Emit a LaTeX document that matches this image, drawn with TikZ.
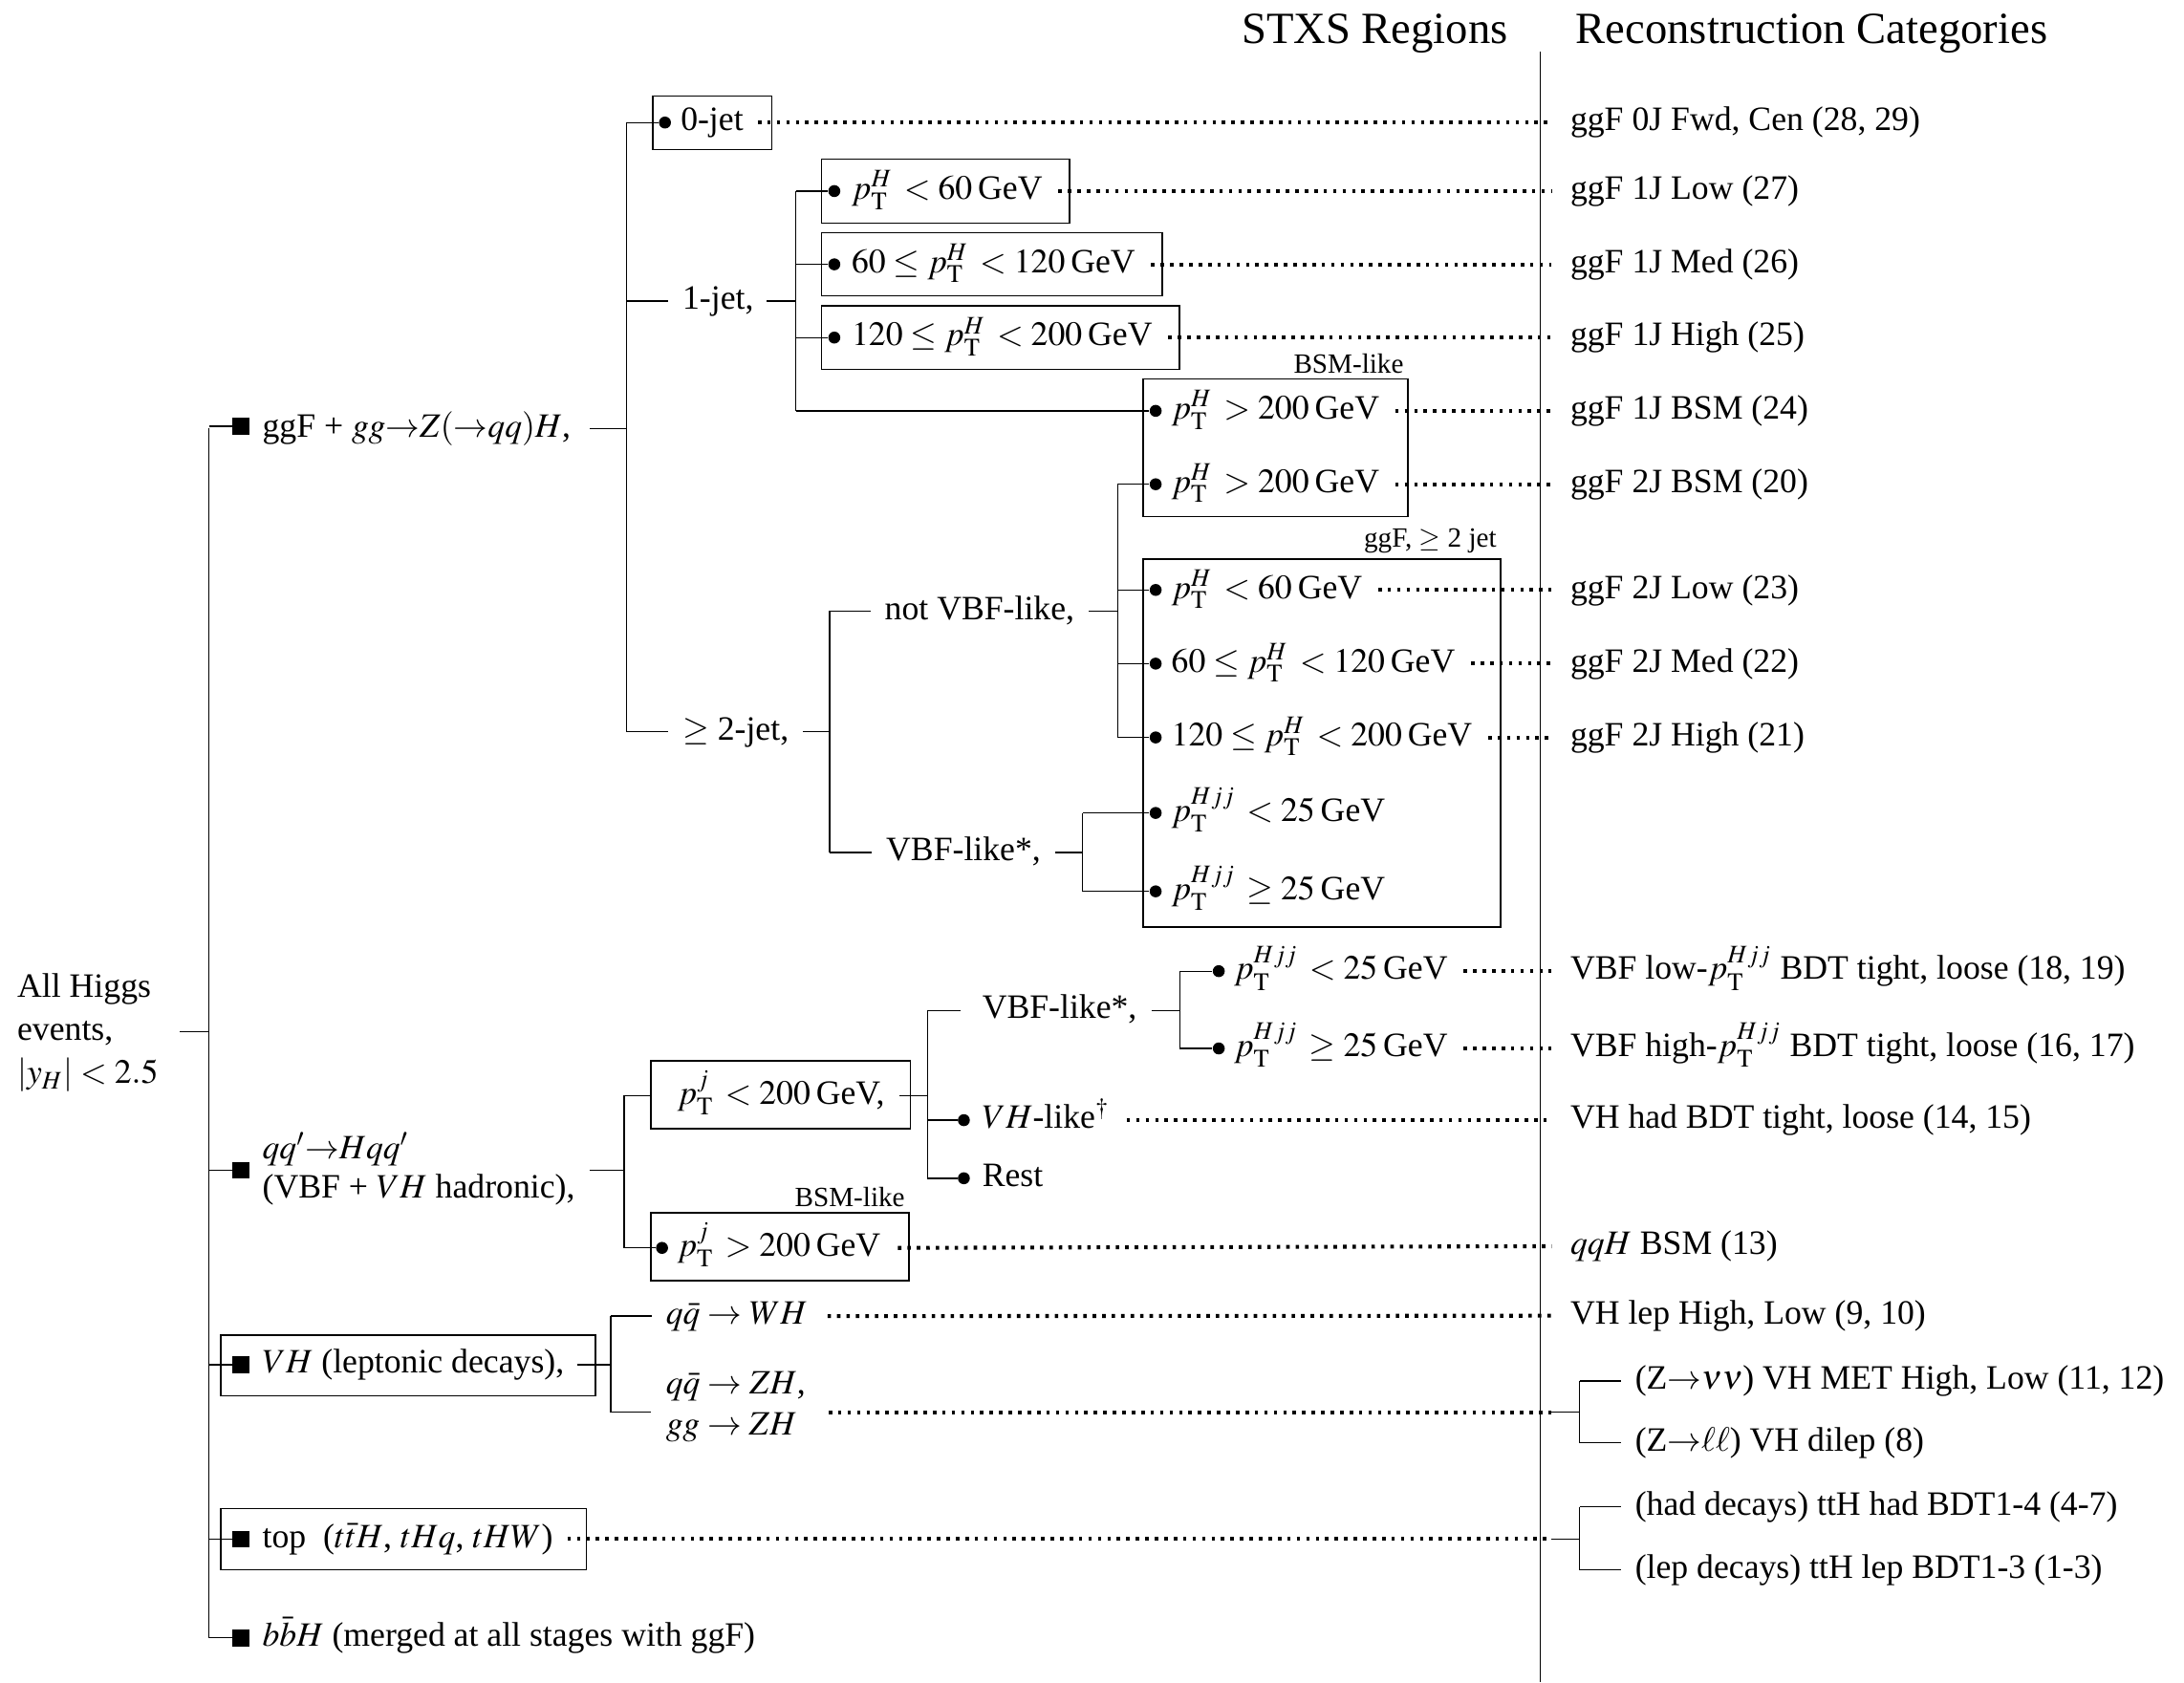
\documentclass[tikz,border=0pt]{standalone}
\usepackage{mathptmx}
\usepackage[no-math]{fontspec}
\setmainfont{Liberation Serif}
\usetikzlibrary{calc,fit}
\newcommand\fsmain{\fontsize{12.25}{15}\selectfont}
\newcommand\fshead{\fontsize{16}{19}\selectfont}
\newcommand\fssmall{\fontsize{10}{12}\selectfont}
\newcommand\pT[1]{p_{\mathrm{T}}^{#1}}
\begin{document}
\begin{tikzpicture}[x=0.5pt,y=-0.5pt,line width=0.45pt,
  lbl/.style={anchor=west,inner sep=0pt,text height=9pt,text depth=3pt,font=\fsmain},
  hdr/.style={anchor=base west,inner sep=0pt,font=\fshead},
  toplbl/.style={anchor=south east,inner sep=0pt,font=\fssmall},
  dotline/.style={line width=1.4pt,dash pattern=on 1.25pt off 2.15pt},
  rbox/.style={draw,line width=0.45pt,inner sep=0pt},
  bul/.style={circle,fill,inner sep=0pt,minimum size=4.3pt},
  sq/.style={rectangle,fill,inner sep=0pt,minimum size=6pt}]
\useasboundingbox (0,0) rectangle (1568,1208);

% headers and divider
\node[hdr] (hS) at (891,31) {STXS Regions};
\node[hdr] (hR) at (1131,31) {Reconstruction Categories};
\coordinate (divT) at (1106,37);
\coordinate (divB) at (1106,1208);
\draw (divT) -- (divB);

% right column
\node[lbl] (r1) at (1127,88) {ggF 0J Fwd, Cen (28, 29)};
\node[lbl] (r2) at (1127,137.2) {ggF 1J Low (27)};
\node[lbl] (r3) at (1127,189.8) {ggF 1J Med (26)};
\node[lbl] (r4) at (1127,242.4) {ggF 1J High (25)};
\node[lbl] (r5) at (1127,295) {ggF 1J BSM (24)};
\node[lbl] (r6) at (1127,347.7) {ggF 2J BSM (20)};
\node[lbl] (r7) at (1127,423.6) {ggF 2J Low (23)};
\node[lbl] (r8) at (1127,476.5) {ggF 2J Med (22)};
\node[lbl] (r9) at (1127,529.5) {ggF 2J High (21)};
\node[lbl] (r10) at (1127,697.3) {VBF low-$\pT{Hjj}$ BDT tight, loose (18, 19)};
\node[lbl] (r11) at (1127,752.8) {VBF high-$\pT{Hjj}$ BDT tight, loose (16, 17)};
\node[lbl] (r12) at (1127,804.3) {VH had BDT tight, loose (14, 15)};
\node[lbl] (r13) at (1127,894.8) {$qqH$ BSM (13)};
\node[lbl] (r14) at (1127,944.7) {VH lep High, Low (9, 10)};
\node[lbl] (r15) at (1173.5,991.6) {(Z${\rightarrow}\nu\nu$) VH MET High, Low (11, 12)};
\node[lbl] (r16) at (1173.5,1036) {(Z${\rightarrow}\ell\ell$) VH dilep (8)};
\node[lbl] (r17) at (1173.5,1082) {(had decays) ttH had BDT1-4 (4-7)};
\node[lbl] (r18) at (1173.5,1127.2) {(lep decays) ttH lep BDT1-3 (1-3)};

% root
\node[lbl] (all1) at (12,710) {All Higgs};
\node[lbl] (all2) at (12,741) {events,};
\node[lbl] (all3) at (12,772) {$|y_H| < 2.5$};
\coordinate (trT) at (150,307.7);
\coordinate (trB) at (150,1176);
\coordinate (rootE) at ($(all1.east |- all2.east)+(20,0)$);
\draw (rootE) -- (rootE -| trT);
\draw (trT) -- (trB);

% level 1
\node[sq] (s1) at (173,306) {};
\node[sq] (s2) at (173,840.2) {};
\node[sq] (s3) at (173,980) {};
\node[sq] (s4) at (173,1105) {};
\node[sq] (s5) at (173,1176) {};
\draw (trT |- s1) -- (s1.west);
\draw (trT |- s2) -- (s2.west);
\draw (trT |- s3) -- (s3.west);
\draw (trT |- s4) -- (s4.west);
\draw (trB) -- (s5.west);
\node[lbl] (ggf) at (188,307.7) {ggF + $gg{\rightarrow}Z({\rightarrow}qq)H$,};
\node[lbl] (vbfa) at (188,826) {$qq'{\rightarrow}Hqq'$};
\node[lbl] (vbfb) at (188,854) {(VBF + $VH$ hadronic),};
\node[lbl] (vhl) at (188,980) {$VH$ (leptonic decays),};
\node[lbl] (top) at (188,1105) {top\enspace($t\bar{t}H$, $tHq$, $tHW$)};
\node[lbl] (bbh) at (188,1176) {$b\bar{b}H$ (merged at all stages with ggF)};
\node[rbox,fit={(158.6,958.6) ($(vhl.east)+(22,22)$)}] (boxvh) {};
\node[rbox,fit={(158.6,1083) ($(top.east)+(23.6,22)$)}] (boxtop) {};

% ggF subtree
\coordinate (g0) at (449.8,88);
\coordinate (g2) at (449.8,525.4);
\coordinate (ggfe) at ($(ggf.east)+(13,0)$);
\draw (ggfe) -- (ggfe -| g0);
\draw (g0) -- (g2);
% 0-jet
\node[bul] (b0) at (477.4,88) {};
\node[lbl] (t0) at (488.3,88) {0-jet};
\node[rbox,fit={(468.7,69) ($(t0.east)+(20,19.5)$)}] (box0) {};
\draw (g0) -- (b0);
% 1-jet
\node[lbl] (t1j) at (489.6,216.2) {1-jet,};
\draw (g0 |- t1j) -- ($(t1j.west)+(-10,0)$);
\coordinate (j1a) at (571.5,137.2);
\coordinate (j1b) at (571.5,295);
\coordinate (t1je) at ($(t1j.east)+(9,0)$);
\draw (t1je) -- (t1je -| j1a);
\draw (j1a) -- (j1b);
\node[bul] (b11) at (599,137.2) {};
\node[bul] (b12) at (599,189.8) {};
\node[bul] (b13) at (599,242.4) {};
\node[lbl] (t11) at (611,137.2) {$\pT{H}\, < 60$\,GeV};
\node[lbl] (t12) at (611,189.8) {$60 \leq \pT{H}\, < 120$\,GeV};
\node[lbl] (t13) at (611,242.4) {$120 \leq \pT{H}\, < 200$\,GeV};
\node[rbox,fit={(590,114.4) ($(t11.east)+(19,22.8)$)}] (box11) {};
\node[rbox,fit={(590,167) ($(t12.east)+(19,22.8)$)}] (box12) {};
\node[rbox,fit={(590,219.6) ($(t13.east)+(19,22.8)$)}] (box13) {};
\draw (j1a) -- (b11);
\draw (j1a |- b12) -- (b12);
\draw (j1a |- b13) -- (b13);
% BSM-like box
\node[bul] (b14) at (829.7,295) {};
\node[bul] (b15) at (829.7,347.7) {};
\node[lbl] (t14) at (840.6,295) {$\pT{H}\, > 200$\,GeV};
\node[lbl] (t15) at (840.6,347.7) {$\pT{H}\, > 200$\,GeV};
\node[rbox,fit={(820.7,272.2) ($(t15.east)+(20,23.3)$)}] (boxbsm) {};
\node[toplbl] (lbsm) at ($(boxbsm.north east)+(-3,-3)$) {BSM-like};
\draw (j1b) -- (b14);
% >=2-jet
\node[lbl] (t2j) at (489.6,525.4) {$\geq$ 2-jet,};
\draw (g2) -- ($(t2j.west)+(-10,0)$);
\coordinate (j2a) at (595.7,438.7);
\coordinate (j2b) at (595.7,612);
\coordinate (t2je) at ($(t2j.east)+(10,0)$);
\draw (t2je) -- (t2je -| j2a);
\draw (j2a) -- (j2b);
\node[lbl] (tnv) at (634.8,438.7) {not VBF-like,};
\draw (j2a) -- ($(tnv.west)+(-10,0)$);
\coordinate (j3a) at (802.5,347.7);
\coordinate (j3b) at (802.5,529.5);
\coordinate (tnve) at ($(tnv.east)+(10,0)$);
\draw (tnve) -- (tnve -| j3a);
\draw (j3a) -- (j3b);
\node[bul] (b21) at (829.7,423.6) {};
\node[bul] (b22) at (829.7,476.5) {};
\node[bul] (b23) at (829.7,529.5) {};
\node[lbl] (t21) at (840.6,423.6) {$\pT{H}\, < 60$\,GeV};
\node[lbl] (t22) at (840.6,476.5) {$60 \leq \pT{H}\, < 120$\,GeV};
\node[lbl] (t23) at (840.6,529.5) {$120 \leq \pT{H}\, < 200$\,GeV};
\draw (j3a) -- (b15);
\draw (j3a |- b21) -- (b21);
\draw (j3a |- b22) -- (b22);
\draw (j3b) -- (b23);
\node[lbl] (tvl) at (635.8,612) {VBF-like*,};
\draw (j2b) -- ($(tvl.west)+(-10,0)$);
\coordinate (j4a) at (777.2,583.7);
\coordinate (j4b) at (777.2,640);
\coordinate (tvle) at ($(tvl.east)+(10,0)$);
\draw (tvle) -- (tvle -| j4a);
\draw (j4a) -- (j4b);
\node[bul] (b24) at (829.7,583.7) {};
\node[bul] (b25) at (829.7,640) {};
\node[lbl] (t24) at (840.6,583.7) {$\pT{Hjj}\, < 25$\,GeV};
\node[lbl] (t25) at (840.6,640) {$\pT{Hjj}\, \geq 25$\,GeV};
\draw (j4a) -- (b24);
\draw (j4b) -- (b25);
\coordinate (box2br) at ($(t23.east |- t25.east)+(20,25.6)$);
\node[rbox,fit={(820.7,401.4) (box2br)}] (box2j) {};
\node[toplbl] (l2j) at ($(box2j.north east)+(-3,-3)$) {ggF, $\geq$ 2 jet};

% VBF subtree
\coordinate (v0) at (448,786.6);
\coordinate (v1) at (448,896);
\coordinate (vbfe) at ($(vbfb.east)+(10,0)$);
\draw (vbfe |- s2) -- (v0 |- s2);
\draw (v0) -- (v1);
\node[lbl] (tpj) at (485.8,786.6) {$\pT{j}\, < 200$\,GeV,};
\node[rbox,fit={(467.3,761.8) ($(tpj.east)+(18,23.8)$)}] (boxpj) {};
\draw (v0) -- (v0 -| boxpj.west);
\coordinate (j5a) at (665.8,725.5);
\coordinate (j5b) at (665.8,846);
\coordinate (tpje) at ($(tpj.east)+(10,0)$);
\draw (tpje) -- (tpje -| j5a);
\draw (j5a) -- (j5b);
\node[lbl] (tvl2) at (704.8,725.5) {VBF-like*,};
\draw (j5a) -- ($(tvl2.west)+(-15,0)$);
\coordinate (j6a) at (847,697.3);
\coordinate (j6b) at (847,752.8);
\coordinate (tvl2e) at ($(tvl2.east)+(10,0)$);
\draw (tvl2e) -- (tvl2e -| j6a);
\draw (j6a) -- (j6b);
\node[bul] (b31) at (875,697.3) {};
\node[bul] (b32) at (875,752.8) {};
\node[lbl] (t31) at (885.5,697.3) {$\pT{Hjj}\, < 25$\,GeV};
\node[lbl] (t32) at (885.5,752.8) {$\pT{Hjj}\, \geq 25$\,GeV};
\draw (j6a) -- (b31);
\draw (j6b) -- (b32);
\node[bul] (b33) at (692,804.3) {};
\node[bul] (b34) at (692,846) {};
\node[lbl] (t33) at (704.8,804.3) {$VH$-like$^{\dagger}$};
\node[lbl] (t34) at (704.8,846) {Rest};
\draw (j5a |- b33) -- (b33);
\draw (j5b) -- (b34);
\node[bul] (b35) at (475.3,896) {};
\node[lbl] (t35) at (485.8,896) {$\pT{j}\, > 200$\,GeV};
\node[rbox,fit={(467.3,870.7) ($(t35.east)+(20,23.5)$)}] (boxpj2) {};
\node[toplbl] (lbsm2) at ($(boxpj2.north east)+(-3,-3)$) {BSM-like};
\draw (v1) -- (b35);

% VH leptonic
\coordinate (j7a) at (438.5,945);
\coordinate (j7b) at (438.5,1014);
\coordinate (vhle) at ($(vhl.east)+(9,0)$);
\draw (vhle) -- (vhle -| j7a);
\draw (j7a) -- (j7b);
\node[lbl] (twh) at (477.7,945) {$q\bar{q} \rightarrow WH$};
\node[lbl] (tzh1) at (477.7,995) {$q\bar{q} \rightarrow ZH$,};
\node[lbl] (tzh2) at (477.7,1024) {$gg \rightarrow ZH$};
\draw (j7a) -- ($(twh.west)+(-10,0)$);
\coordinate (zhin) at (467.4,1014);
\draw (j7b) -- (zhin);

% right sub-trees
\coordinate (k1) at (1114,1014);
\coordinate (k1j) at (1134,1014);
\coordinate (k2) at (1114,1105);
\coordinate (k2j) at (1134,1105);
\draw (k1) -- (k1j);
\draw (k1j |- r15) -- (k1j |- r16);
\draw (k1j |- r15) -- ($(r15.west)+(-10,0)$);
\draw (k1j |- r16) -- ($(r16.west)+(-10,0)$);
\draw (k2) -- (k2j);
\draw (k2j |- r17) -- (k2j |- r18);
\draw (k2j |- r17) -- ($(r17.west)+(-10,0)$);
\draw (k2j |- r18) -- ($(r18.west)+(-10,0)$);

% dotted links
\draw[dotline] ($(t0.east)+(10,0)$) -- ($(r1.west)+(-13,0)$);
\draw[dotline] ($(t11.east)+(11,0)$) -- ($(r2.west)+(-13,0)$);
\draw[dotline] ($(t12.east)+(11,0)$) -- ($(r3.west)+(-13,0)$);
\draw[dotline] ($(t13.east)+(11,0)$) -- ($(r4.west)+(-13,0)$);
\draw[dotline] ($(t14.east)+(11,0)$) -- ($(r5.west)+(-13,0)$);
\draw[dotline] ($(t15.east)+(11,0)$) -- ($(r6.west)+(-13,0)$);
\draw[dotline] ($(t21.east)+(11,0)$) -- ($(r7.west)+(-13,0)$);
\draw[dotline] ($(t22.east)+(11,0)$) -- ($(r8.west)+(-13,0)$);
\draw[dotline] ($(t23.east)+(11,0)$) -- ($(r9.west)+(-13,0)$);
\draw[dotline] ($(t31.east)+(11,0)$) -- ($(r10.west)+(-13,0)$);
\draw[dotline] ($(t32.east)+(11,0)$) -- ($(r11.west)+(-13,0)$);
\draw[dotline] ($(t33.east)+(12,0)$) -- ($(r12.west)+(-13,0)$);
\draw[dotline] ($(t35.east)+(12,0)$) -- ($(r13.west)+(-13,0)$);
\draw[dotline] ($(twh.east)+(14,0)$) -- ($(r14.west)+(-13,0)$);
\coordinate (zhe) at ($(tzh1.east)+(16,0)$);
\draw[dotline] (zhe |- k1) -- (k1);
\draw[dotline] ($(top.east)+(10,0)$) -- (k2);
\end{tikzpicture}
\end{document}
